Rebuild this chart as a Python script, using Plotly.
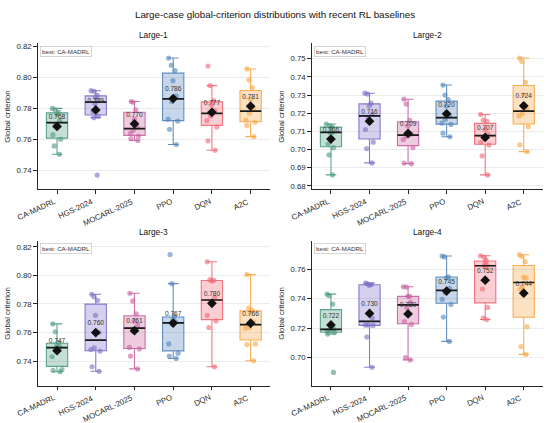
import numpy as np
import plotly.graph_objects as go

methods = ["CA-MADRL", "HGS-2024", "MOCARL-2025", "PPO", "DQN", "A2C"]
scenarios = ["Large-1", "Large-2", "Large-3", "Large-4"]
best_method = "CA-MADRL"
method_colors = ["#4C9A7E", "#7B6CC6", "#C7619E", "#5183BA", "#EF6873", "#F7A541"]

large1 = [
    [0.7800, 0.7790, 0.7775, 0.7760, 0.7720, 0.7695, 0.7630, 0.7600, 0.7557, 0.7503],
    [0.7915, 0.7910, 0.7885, 0.7870, 0.7850, 0.7832, 0.7780, 0.7750, 0.7740, 0.7368],
    [0.7845, 0.7840, 0.7790, 0.7730, 0.7680, 0.7658, 0.7640, 0.7620, 0.7605, 0.7592],
    [0.8127, 0.8080, 0.8045, 0.7980, 0.7880, 0.7845, 0.7730, 0.7718, 0.7665, 0.7566],
    [0.8075, 0.7948, 0.7850, 0.7820, 0.7785, 0.7750, 0.7720, 0.7680, 0.7590, 0.7529],
    [0.8056, 0.7985, 0.7935, 0.7860, 0.7795, 0.7770, 0.7725, 0.7710, 0.7690, 0.7617],
]
large2 = [
    [0.7140, 0.7130, 0.7125, 0.7118, 0.7095, 0.7093, 0.7030, 0.7010, 0.6970, 0.6860],
    [0.7310, 0.7305, 0.7255, 0.7240, 0.7195, 0.7175, 0.7110, 0.7040, 0.7005, 0.6926],
    [0.7277, 0.7250, 0.7160, 0.7130, 0.7085, 0.7072, 0.7055, 0.7010, 0.6925, 0.6922],
    [0.7355, 0.7300, 0.7275, 0.7240, 0.7185, 0.7165, 0.7145, 0.7138, 0.7090, 0.7070],
    [0.7193, 0.7162, 0.7155, 0.7110, 0.7085, 0.7068, 0.7040, 0.7025, 0.6965, 0.6860],
    [0.7504, 0.7485, 0.7370, 0.7300, 0.7225, 0.7198, 0.7185, 0.7125, 0.7025, 0.6988],
]
large3 = [
    [0.7660, 0.7605, 0.7530, 0.7510, 0.7500, 0.7488, 0.7430, 0.7340, 0.7335, 0.7325],
    [0.7868, 0.7850, 0.7825, 0.7720, 0.7600, 0.7492, 0.7480, 0.7470, 0.7360, 0.7328],
    [0.7875, 0.7820, 0.7730, 0.7680, 0.7650, 0.7610, 0.7495, 0.7485, 0.7435, 0.7345],
    [0.8146, 0.7942, 0.7715, 0.7690, 0.7675, 0.7660, 0.7520, 0.7455, 0.7435, 0.7418],
    [0.8095, 0.7970, 0.7965, 0.7960, 0.7845, 0.7810, 0.7720, 0.7680, 0.7635, 0.7360],
    [0.8005, 0.7770, 0.7755, 0.7740, 0.7675, 0.7635, 0.7630, 0.7520, 0.7515, 0.7402],
]
large4 = [
    [0.7430, 0.7420, 0.7362, 0.7215, 0.7195, 0.7188, 0.7180, 0.7170, 0.7160, 0.6900],
    [0.7505, 0.7500, 0.7495, 0.7490, 0.7270, 0.7222, 0.7220, 0.7218, 0.7140, 0.6935],
    [0.7480, 0.7478, 0.7415, 0.7415, 0.7375, 0.7340, 0.7245, 0.7225, 0.7000, 0.6985],
    [0.7688, 0.7682, 0.7548, 0.7540, 0.7470, 0.7440, 0.7395, 0.7360, 0.7275, 0.7110],
    [0.7690, 0.7680, 0.7660, 0.7640, 0.7625, 0.7620, 0.7465, 0.7340, 0.7268, 0.7258],
    [0.7697, 0.7685, 0.7650, 0.7545, 0.7540, 0.7478, 0.7465, 0.7210, 0.7075, 0.7022],
]
scenario_values = [large1, large2, large3, large4]

y_ranges = [[0.7275, 0.8221], [0.678, 0.7584], [0.7226, 0.8242], [0.6809, 0.7791]]
y_dtick = [0.02, 0.01, 0.02, 0.02]

x_domains = [[0.0685, 0.4909], [0.5667, 0.9873]]
y_domains = [[0.5525, 0.8991], [0.0858, 0.4303]]

FONT = "Liberation Sans, Arial, sans-serif"
TXT = "#262626"
BOX_W = 0.55


def rgba(hex_color, a):
    h = hex_color.lstrip("#")
    r, g, b = int(h[0:2], 16), int(h[2:4], 16), int(h[4:6], 16)
    return f"rgba({r},{g},{b},{a})"


def box_stats(vals):
    v = np.asarray(vals, dtype=float)
    q1, med, q3 = np.percentile(v, [25, 50, 75])
    iqr = q3 - q1
    lo = v[v >= q1 - 1.5 * iqr].min()
    hi = v[v <= q3 + 1.5 * iqr].max()
    return q1, med, q3, lo, hi, v.mean()


fig = go.Figure()
annotations = []

for k, (name, groups) in enumerate(zip(scenarios, scenario_values)):
    row, col = divmod(k, 2)
    sfx = "" if k == 0 else str(k + 1)
    xa, ya = "x" + sfx, "y" + sfx
    med_x, med_y, means = [], [], []
    for j, (m, vals, c) in enumerate(zip(methods, groups, method_colors)):
        q1, med, q3, lo, hi, mean = box_stats(vals)
        means.append(mean)
        fig.add_trace(go.Box(
            x=[j], q1=[q1], median=[med], q3=[q3], lowerfence=[lo], upperfence=[hi],
            width=BOX_W, whiskerwidth=0.5, boxpoints=False,
            fillcolor=rgba(c, 0.32), line=dict(color=rgba(c, 0.9), width=1.1),
            xaxis=xa, yaxis=ya, showlegend=False, hoverinfo="skip",
        ))
        fig.add_trace(go.Box(
            x=[j] * len(vals), y=vals, width=BOX_W, boxpoints="all", jitter=0.6, pointpos=0,
            fillcolor="rgba(0,0,0,0)", line=dict(color="rgba(0,0,0,0)", width=0),
            marker=dict(color=rgba(c, 0.6), size=5.2, line=dict(width=0)),
            xaxis=xa, yaxis=ya, showlegend=False, hoverinfo="skip",
        ))
        med_x += [j - BOX_W / 2, j + BOX_W / 2, None]
        med_y += [med, med, None]
        # rotated tick label, right/top aligned at the tick
        annotations.append(dict(
            text=m, xref=xa, yref=ya + " domain", x=j, y=0,
            xanchor="right", yanchor="top", xshift=2.5, yshift=-4.5, textangle=-25,
            showarrow=False, font=dict(family=FONT, size=7.8, color=TXT),
        ))
    fig.add_trace(go.Scatter(
        x=med_x, y=med_y, mode="lines", line=dict(color="#1a1a1a", width=1.7),
        xaxis=xa, yaxis=ya, showlegend=False, hoverinfo="skip",
    ))
    fig.add_trace(go.Scatter(
        x=list(range(len(methods))), y=means, mode="markers+text",
        marker=dict(symbol="diamond", size=7.5, color="#111111"),
        text=[f"{v:.3f}" for v in means], textposition="top center",
        textfont=dict(family=FONT, size=6.6, color="#333333"),
        xaxis=xa, yaxis=ya, showlegend=False, hoverinfo="skip",
    ))

    fig.update_layout({
        "xaxis" + sfx: dict(
            domain=x_domains[col], anchor=ya, range=[-0.5, len(methods) - 0.5],
            tickmode="array", tickvals=list(range(len(methods))), showticklabels=False,
            showgrid=False, zeroline=False, showline=True,
            linecolor=TXT, linewidth=1, ticks="outside", ticklen=3.5, tickwidth=0.8,
            tickcolor=TXT,
        ),
        "yaxis" + sfx: dict(
            domain=y_domains[row], anchor=xa, range=y_ranges[k], dtick=y_dtick[k],
            tickformat=".2f", showgrid=True, gridcolor="#ebebeb", gridwidth=0.7,
            zeroline=False, showline=True, linecolor=TXT, linewidth=1,
            ticks="outside", ticklen=3.5, tickwidth=0.8, tickcolor=TXT,
            tickfont=dict(family=FONT, size=7.8, color=TXT),
        ),
    })

    xd, yd = x_domains[col], y_domains[row]
    annotations.append(dict(
        text=name, xref="paper", yref="paper", x=(xd[0] + xd[1]) / 2, y=yd[1],
        xanchor="center", yanchor="bottom", yshift=1.5, showarrow=False,
        font=dict(family=FONT, size=8.3, color="#111111"),
    ))
    annotations.append(dict(
        text="Global criterion", xref="paper", yref="paper",
        x=xd[0] - 0.0552, y=(yd[0] + yd[1]) / 2, textangle=-90,
        xanchor="center", yanchor="middle", showarrow=False,
        font=dict(family=FONT, size=7.8, color=TXT),
    ))
    annotations.append(dict(
        text="best: " + best_method, xref=xa + " domain", yref=ya + " domain",
        x=0.01, y=0.984, xanchor="left", yanchor="top", showarrow=False,
        font=dict(family=FONT, size=6.2, color="#333333"),
        bgcolor="rgba(255,255,255,0.85)", bordercolor="#cccccc", borderwidth=0.8, borderpad=1.2,
    ))

fig.update_layout(
    width=550, height=423, margin=dict(l=0, r=0, t=0, b=0),
    paper_bgcolor="white", plot_bgcolor="white", boxmode="overlay",
    title=dict(text="Large-case global-criterion distributions with recent RL baselines",
               x=0.5, y=1 - 15 / 423, xanchor="center", yanchor="middle",
               font=dict(family=FONT, size=9.8, color="#111111")),
    annotations=annotations, showlegend=False,
)

fig.write_html("out.html", config={"displayModeBar": False},
               post_script="document.body.style.margin='0';")
